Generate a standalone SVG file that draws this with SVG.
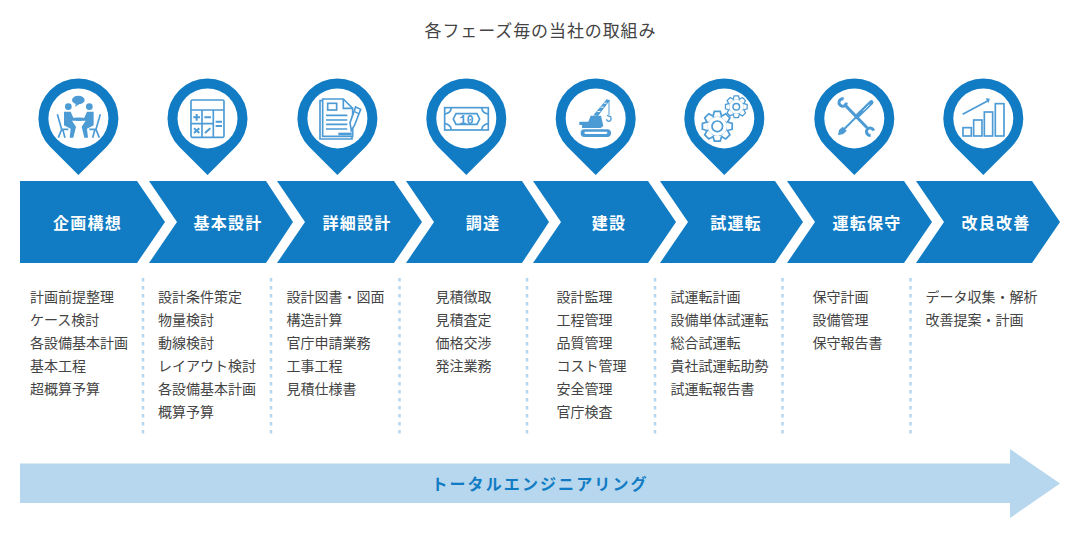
<svg xmlns="http://www.w3.org/2000/svg" width="1080" height="539" viewBox="0 0 1080 539">
<style>
text{font-family:"Noto Sans CJK JP","Noto Sans CJK SC",sans-serif}
.t{font-size:17px;fill:#444;letter-spacing:.9px;text-anchor:middle}
.b{fill:#117cc4}
.l{font-size:16px;font-weight:700;fill:#fff;letter-spacing:1.2px;text-anchor:middle}
.i{font-size:14px;fill:#444}
.d{stroke:#b7d7ee;stroke-width:2.500;stroke-dasharray:3.500 4.500;fill:none}
.s{fill:none;stroke:#4c9bd5}
.f{fill:#4c9bd5}
.w{fill:#fff;stroke:#4c9bd5}
.e{font-size:16px;font-weight:700;fill:#117cc4;letter-spacing:2.100px;text-anchor:middle}
</style>
<defs>
<g id="pin"><path class="b" d="M0,56.6L-28.3,28.3A40,40 0 1 1 28.3,28.3Z"/><circle r="30" fill="#fff"/></g>
<g id="person"><circle cx="145" cy="110" r="10" class="f"/><path class="f" d="M132,125H152L160,143H185V152H156L168,170L160,203H149L152,176L132,166Z"/><path class="s" stroke-width="5" d="M112,133L125,178H145M125,178L115,203M128,178L135,203"/></g>
<path id="tooth" class="w" stroke-width="3.800" d="M-10,0L-6.500,-12H6.500L10,0"/>
<g id="gear"><circle r="10.500" class="w" stroke-width="1.700"/><use href="#tooth" transform="translate(0,-9.500) scale(.45)"/><use href="#tooth" transform="rotate(45) translate(0,-9.500) scale(.45)"/><use href="#tooth" transform="rotate(90) translate(0,-9.500) scale(.45)"/><use href="#tooth" transform="rotate(135) translate(0,-9.500) scale(.45)"/><use href="#tooth" transform="rotate(180) translate(0,-9.500) scale(.45)"/><use href="#tooth" transform="rotate(225) translate(0,-9.500) scale(.45)"/><use href="#tooth" transform="rotate(270) translate(0,-9.500) scale(.45)"/><use href="#tooth" transform="rotate(315) translate(0,-9.500) scale(.45)"/></g>
</defs>
<text class="t" x="540.500" y="37">各フェーズ毎の当社の取組み</text>
<g id="connectors"></g>

<g id="phase1"><use href="#pin" x="78.400" y="118.400"/>
<g transform="translate(20,70) scale(.3333)"><ellipse class="f" cx="175" cy="90" rx="19" ry="13"/><path class="f" d="M168,100L165,110L178,102Z"/><use href="#person"/><use href="#person" transform="translate(353,0) scale(-1,1)"/></g>
<path class="b" d="M20,181H137L165,222L137,263H20Z"/><text class="l" x="87.500" y="228.500">企画構想</text>
<g><text class="i" x="30" y="302">計画前提整理</text><text class="i" x="30" y="325">ケース検討</text><text class="i" x="30" y="348">各設備基本計画</text><text class="i" x="30" y="371">基本工程</text><text class="i" x="30" y="394">超概算予算</text></g></g>

<g id="phase2"><use href="#pin" x="207.500" y="118.400"/>
<g transform="translate(20,70) scale(.3333)" stroke-width="5"><rect class="s" x="513" y="90" width="99" height="112" rx="4"/><path class="s" d="M513,120H612M546,120V202M580,120V202M513,161H580"/><path class="s" stroke-width="6" d="M520,142H540M530,132V152M553,142H573M587,155H606M587,168H606M522,175L538,189M538,175L522,189M555,189L571,175"/></g>
<path class="b" d="M149,181H266L293,222L266,263H149L177,222Z"/><text class="l" x="228" y="228.500">基本設計</text>
<g><text class="i" x="158" y="302">設計条件策定</text><text class="i" x="158" y="325">物量検討</text><text class="i" x="158" y="348">動線検討</text><text class="i" x="158" y="371">レイアウト検討</text><text class="i" x="158" y="394">各設備基本計画</text><text class="i" x="158" y="417">概算予算</text></g></g>

<g id="phase3"><use href="#pin" x="337.400" y="118.400"/>
<g transform="translate(290,70) scale(.3333)" stroke-width="5"><path class="s" d="M98,92H90V207H186V198"/><path class="s" d="M98,87H160L188,115V199H98Z"/><path class="s" d="M160,87V115H188"/><rect class="s" x="113" y="100" width="27" height="20"/><path class="s" d="M108,136H172M108,150H172M108,163H172M108,177H172"/><path class="s" stroke-width="8" d="M145,192H185"/><path class="w" d="M197,111L212,118L194,165L184,182L180,158Z"/><path class="s" stroke-width="4" d="M194,125L206,131"/></g>
<path class="b" d="M277,181H394L422,222L394,263H277L305,222Z"/><text class="l" x="357" y="228.500">詳細設計</text>
<g><text class="i" x="286.500" y="302">設計図書・図面</text><text class="i" x="286.500" y="325">構造計算</text><text class="i" x="286.500" y="348">官庁申請業務</text><text class="i" x="286.500" y="371">工事工程</text><text class="i" x="286.500" y="394">見積仕様書</text></g></g>

<g id="phase4"><use href="#pin" x="466.300" y="118.400"/>
<g transform="translate(290,70) scale(.3333)" stroke-width="5"><rect class="s" x="464" y="113" width="131" height="67"/><path class="s" d="M498,131H561L569,147L561,163H498L490,147Z"/><path class="s" d="M464,132Q482,130 484,113M595,132Q577,130 575,113M464,161Q482,163 484,180M595,161Q577,163 575,180"/></g>
<text x="466.500" y="124" font-size="12" font-weight="700" text-anchor="middle" style="font-family:'Liberation Mono',monospace" fill="#4c9bd5">10</text>
<path class="b" d="M406,181H522L549,222L522,263H406L434,222Z"/><text class="l" x="483" y="228.500">調達</text>
<g><text class="i" x="435.500" y="302">見積徴取</text><text class="i" x="435.500" y="325">見積査定</text><text class="i" x="435.500" y="348">価格交渉</text><text class="i" x="435.500" y="371">発注業務</text></g></g>

<g id="phase5"><use href="#pin" x="595.700" y="118.400"/>
<g transform="translate(570,90) scale(.3333)"><rect class="f" x="32" y="118" width="91" height="23" rx="11"/><rect x="43" y="125" width="69" height="7" rx="3.500" fill="#fff"/><path class="f" d="M28,95H55L62,77H93L100,108L92,114H36V105H28Z"/><path d="M70,76L110,28L120,31L84,78" fill="#4c9bd5"/><path d="M82,65L91,64M92,52L101,51M102,40L110,39" stroke="#fff" stroke-width="3"/><path class="s" stroke-width="3" d="M117,30V75"/><path class="s" stroke-width="4" d="M111,76L122,80Q126,90 118,94Q112,94 109,88"/></g>
<path class="b" d="M533,181H648L676,222L648,263H533L561,222Z"/><text class="l" x="609" y="228.500">建設</text>
<g><text class="i" x="556.500" y="302">設計監理</text><text class="i" x="556.500" y="325">工程管理</text><text class="i" x="556.500" y="348">品質管理</text><text class="i" x="556.500" y="371">コスト管理</text><text class="i" x="556.500" y="394">安全管理</text><text class="i" x="556.500" y="417">官庁検査</text></g></g>

<g id="phase6"><use href="#pin" x="724.300" y="118.400"/>
<use href="#gear" transform="translate(717.300,126.300)"/><circle cx="717.300" cy="126.300" r="5.300" class="w" stroke-width="1.700"/>
<use href="#gear" transform="translate(736.300,106.700) scale(.73)"/><circle cx="736.300" cy="106.700" r="3.300" class="w" stroke-width="1.500"/>
<path class="b" d="M660,181H775L803,222L775,263H660L688,222Z"/><text class="l" x="736" y="228.500">試運転</text>
<g><text class="i" x="670.500" y="302">試運転計画</text><text class="i" x="670.500" y="325">設備単体試運転</text><text class="i" x="670.500" y="348">総合試運転</text><text class="i" x="670.500" y="371">貴社試運転助勢</text><text class="i" x="670.500" y="394">試運転報告書</text></g></g>

<g id="phase7"><use href="#pin" x="854.300" y="118.400"/>
<g transform="translate(830,90) scale(.3333)"><path class="s" stroke-width="9" d="M46,46L112,114"/><path class="s" stroke-width="9" d="M41,27A11,11 0 1 0 49,38M131,122A11,11 0 1 0 122,136"/><path class="s" stroke-width="13" stroke-linecap="round" d="M124,37L80,80"/><path class="s" stroke-width="6" d="M80,80L42,118"/><path class="f" d="M24,136L27,120L38,110L50,122L40,132Z"/><path d="M100,62L118,44" stroke="#fff" stroke-width="2.500"/></g>
<path class="b" d="M787,181H904L932,222L904,263H787L815,222Z"/><text class="l" x="867" y="228.500">運転保守</text>
<g><text class="i" x="812.500" y="302">保守計画</text><text class="i" x="812.500" y="325">設備管理</text><text class="i" x="812.500" y="348">保守報告書</text></g></g>

<g id="phase8"><use href="#pin" x="983.300" y="118.400"/>
<g transform="translate(810,70) scale(.3333)" stroke-width="5"><rect class="s" x="459" y="173" width="25" height="25"/><rect class="s" x="491" y="150" width="25" height="48"/><rect class="s" x="523" y="126" width="25" height="72"/><rect class="s" x="556" y="101" width="26" height="97"/><path class="s" d="M458,133L534,92"/><path class="f" d="M540,86L527,85L535,100Z"/></g>
<path class="b" d="M916,181H1032L1060,222L1032,263H916L944,222Z"/><text class="l" x="996" y="228.500">改良改善</text>
<g><text class="i" x="925.500" y="302">データ収集・解析</text><text class="i" x="925.500" y="325">改善提案・計画</text></g></g>

<g id="dividers"><path class="d" d="M143,278V434M271,278V434M399.500,278V434M527,278V434M655,278V434M782.500,278V434M910.500,278V434"/></g>
<g id="engineering"><path fill="#b7d7ee" d="M20,463.500H1010V449L1060,483.500L1010,518V503H20Z"/><text class="e" x="540" y="489.500">トータルエンジニアリング</text></g>
</svg>
